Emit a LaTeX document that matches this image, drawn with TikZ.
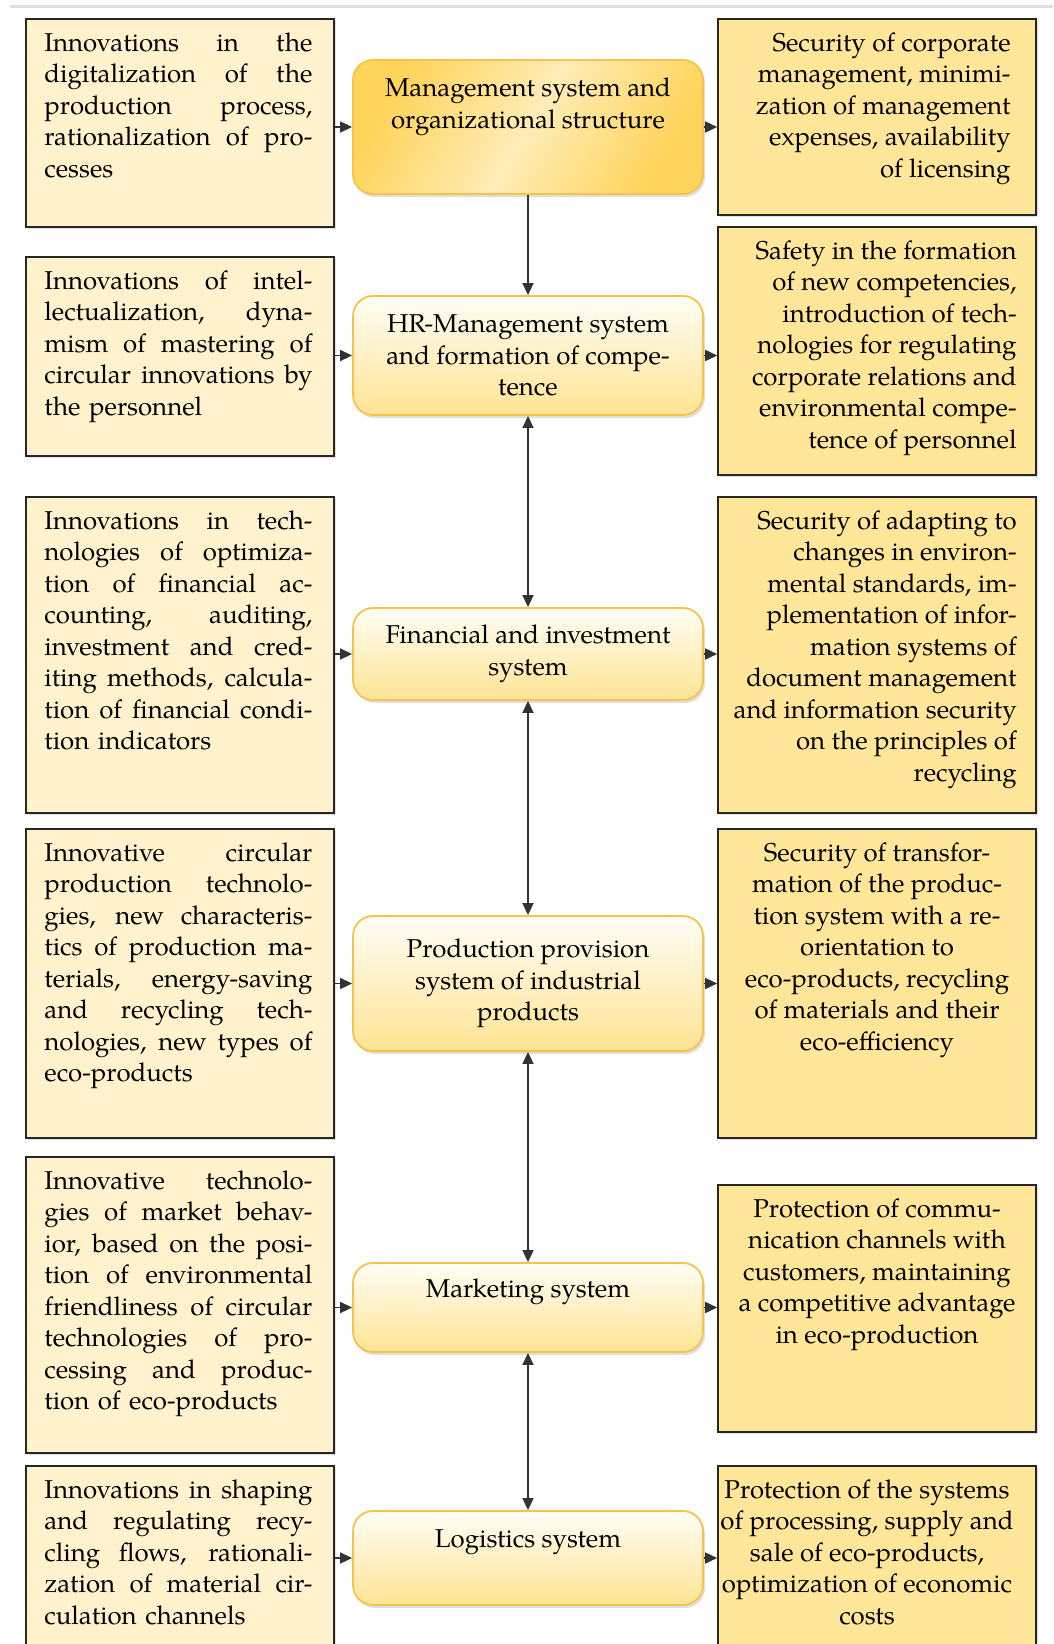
\documentclass[tikz,border=0pt]{standalone}
\usepackage{fontspec}
\setmainfont{TeX Gyre Pagella}
\usetikzlibrary{positioning,arrows.meta,shadows}
\definecolor{infill}{HTML}{FFF2CC}
\definecolor{outfill}{HTML}{FFE699}
\definecolor{sysline}{HTML}{F4C34C}
\definecolor{systop}{HTML}{FFFDF6}
\definecolor{sysbot}{HTML}{FFE493}
\definecolor{sysgold}{HTML}{FFD45A}
\newcommand{\jl}[1]{\leavevmode\hbox to 268pt{\spaceskip=0.25em plus 4em\xspaceskip=0.25em plus 4em #1}\\}

\begin{document}
\begin{tikzpicture}[x=1pt,y=-1pt,
		txt/.style={inner sep=0pt,font=\fontsize{25.8}{31.5}\selectfont},
		intext/.style={txt,text width=268pt,align=left},
		outtext/.style={txt},
		inbox/.style={draw=black!85,line width=1.6pt,fill=infill,minimum width=308pt,
			drop shadow={shadow xshift=1.5pt,shadow yshift=-1.5pt,opacity=.25}},
		outbox/.style={inbox,fill=outfill,minimum width=318pt},
		sysbox/.style={draw=sysline,line width=1.8pt,rounded corners=20pt,minimum width=350pt,
			top color=systop,bottom color=sysbot,
			drop shadow={shadow xshift=2pt,shadow yshift=-3pt,opacity=.25}},
		arr/.style={-{Triangle[length=12pt,width=11pt]},line width=1.6pt,draw=black!80},
		darr/.style={{Triangle[length=12pt,width=11pt]}-{Triangle[length=12pt,width=11pt]},line width=1.6pt,draw=black!80}]
		\useasboundingbox (0,0) rectangle (1053,1644);
		\draw[black!12,line width=3pt] (10,6) -- (1053,6);
		\node[inbox,minimum height=208pt] (L1) at (180,123) {};
		\node[inbox,minimum height=199pt] (L2) at (180,356.5) {};
		\node[inbox,minimum height=316pt] (L3) at (180,655) {};
		\node[inbox,minimum height=309pt] (L4) at (180,983.5) {};
		\node[inbox,minimum height=296pt] (L5) at (180,1305) {};
		\node[inbox,minimum height=194pt] (L6) at (180,1563) {};
		\node[outbox,minimum height=196pt] (R1) at (877,117) {};
		\node[outbox,minimum height=248pt] (R2) at (877,351) {};
		\node[outbox,minimum height=316pt] (R3) at (877,655) {};
		\node[outbox,minimum height=309pt] (R4) at (877,983.5) {};
		\node[outbox,minimum height=247pt] (R5) at (877,1308.5) {};
		\node[outbox,minimum height=194pt] (R6) at (877,1563) {};
		\node[sysbox,minimum height=134pt,top color=sysgold,bottom color=sysgold,middle color=systop!60!sysgold,shading angle=60] (C1) at (528,127) {};
		\node[sysbox,minimum height=119pt] (C2) at (528,355.5) {};
		\node[sysbox,minimum height=92pt] (C3) at (528,654) {};
		\node[sysbox,minimum height=135pt] (C4) at (528,983.5) {};
		\node[sysbox,minimum height=89pt] (C5) at (528,1307.5) {};
		\node[sysbox,minimum height=94pt] (C6) at (528,1558) {};
		\node[intext,below right=14pt and 19pt of L1.north west] (L1t) {\jl{Innovations in the}\jl{digitalization of the}\jl{production process,}\jl{rationalization of pro-}cesses};
		\node[intext,below right=14pt and 19pt of L2.north west] (L2t) {\jl{Innovations of intel-}\jl{lectualization, dyna-}\jl{mism of mastering of}\jl{circular innovations by}the personnel};
		\node[intext,below right=14pt and 19pt of L3.north west] (L3t) {\jl{Innovations in tech-}\jl{nologies of optimiza-}\jl{tion of financial ac-}\jl{counting, auditing,}\jl{investment and cred-}\jl{iting methods, calcula-}\jl{tion of financial condi-}tion indicators};
		\node[intext,below right=14pt and 19pt of L4.north west] (L4t) {\jl{Innovative circular}\jl{production technolo-}\jl{gies, new characteris-}\jl{tics of production ma-}\jl{terials, energy-saving}\jl{and recycling tech-}\jl{nologies, new types of}eco-products};
		\node[intext,below right=14pt and 19pt of L5.north west] (L5t) {\jl{Innovative technolo-}\jl{gies of market behav-}\jl{ior, based on the posi-}\jl{tion of environmental}\jl{friendliness of circular}\jl{technologies of pro-}\jl{cessing and produc-}tion of eco-products};
		\node[intext,below right=14pt and 19pt of L6.north west] (L6t) {\jl{Innovations in shaping}\jl{and regulating recy-}\jl{cling flows, rationali-}\jl{zation of material cir-}culation channels};
		\node[outtext,align=right,below left=14pt and 26pt of R1.north east] (R1t) {Security of corporate\\management, minimi-\\zation of management\\expenses, availability\\of licensing};
		\node[outtext,align=right,below left=14pt and 20pt of R2.north east] (R2t) {Safety in the formation\\of new competencies,\\introduction of tech-\\nologies for regulating\\corporate relations and\\environmental compe-\\tence of personnel};
		\node[outtext,align=right,below left=14pt and 20pt of R3.north east] (R3t) {Security of adapting to\\changes in environ-\\mental standards, im-\\plementation of infor-\\mation systems of\\document management\\and information security\\on the principles of\\recycling};
		\node[outtext,align=center,below=14pt of R4.north] (R4t) {Security of transfor-\\mation of the produc-\\tion system with a re-\\orientation to\\eco-products, recycling\\of materials and their\\eco-efficiency};
		\node[outtext,align=center,below=14pt of R5.north] (R5t) {Protection of commu-\\nication channels with\\customers, maintaining\\a competitive advantage\\in eco-production};
		\node[outtext,align=center,below=14pt of R6.north,xshift=-10pt] (R6t) {Protection of the systems\\of processing, supply and\\sale of eco-products,\\optimization of economic\\costs};
		\node[txt,align=center] (C1t) at ([yshift=20pt]C1.center) {Management system and\\organizational structure};
		\node[txt,align=center] (C2t) at (C2.center) {HR-Management system\\and formation of compe-\\tence};
		\node[txt,align=center] (C3t) at (C3.center) {Financial and investment\\system};
		\node[txt,align=center] (C4t) at (C4.center) {Production provision\\system of industrial\\products};
		\node[txt,align=center] (C5t) at ([yshift=16pt]C5.center) {Marketing system};
		\node[txt,align=center] (C6t) at ([yshift=16pt]C6.center) {Logistics system};
		\foreach \i in {1,...,6}{
			\draw[arr] (L\i.east |- C\i.west) -- (C\i.west);
			\draw[arr] (C\i.east) -- (C\i.east -| R\i.west);
		}
		\draw[arr] (C1.south) -- (C2.north);
		\foreach \i/\j in {2/3,3/4,4/5,5/6}
			\draw[darr] (C\i.south) -- (C\j.north);
	\end{tikzpicture}
\end{document}
